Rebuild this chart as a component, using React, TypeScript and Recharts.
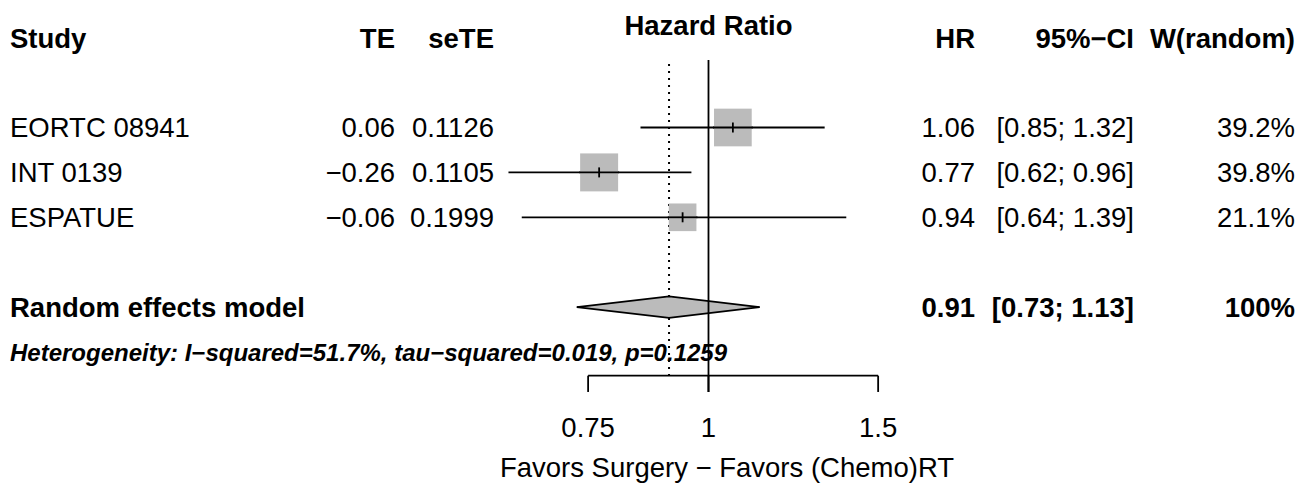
import React from "react";
import { ComposedChart, XAxis, YAxis, Scatter, Area, ReferenceLine } from "recharts";

// ---------- data ----------
const studyLabels = ["EORTC 08941", "INT 0139", "ESPATUE"];
const studyRows = [1, 2, 3];
const teValues = [0.06, -0.26, -0.06];
const seTeValues = [0.1126, 0.1105, 0.1999];
const hrValues = [1.06, 0.77, 0.94];
const ciLower = [0.85, 0.62, 0.64];
const ciUpper = [1.32, 0.96, 1.39];
const weights = [39.2, 39.8, 21.1];

const pooledLabel = "Random effects model";
const pooledRow = 5;
const pooledHr = 0.91;
const pooledLower = 0.73;
const pooledUpper = 1.13;
const pooledWeight = "100%";

const hetLabel = "Heterogeneity: I\u2212squared=51.7%, tau\u2212squared=0.019, p=0.1259";
const hetRow = 6;

const headerLabels = ["Study", "TE", "seTE", "HR", "95%\u2212CI", "W(random)"];
const plotTitle = "Hazard Ratio";
const xTicks = [0.75, 1, 1.5];
const xTickLabels = ["0.75", "1", "1.5"];
const xAxisLabel = "Favors Surgery \u2212 Favors (Chemo)RT";

// ---------- layout ----------
const W = 1299;
const H = 485;
const X_DOMAIN: [number, number] = [0.18392, 4.1012];
const Y_DOMAIN: [number, number] = [-1.8396, 8.9621];
const NULL_EFFECT = 1;
const HEADER_ROW = -1;
const TITLE_ROW = -1.28;
const AXIS_ROW = 6.528;
const TICK_END_ROW = 6.89;
const TICK_LABEL_ROW = 7.666;
const XLABEL_ROW = 8.563;
const REF_TOP_ROW = -0.503;
const DOT_TOP_ROW = -0.414;
const DIAMOND_HALF = 0.24;
const SQUARE_K = 6.02;

const COL_STUDY = 10;
const COL_TE = 395;
const COL_SETE = 494;
const COL_HR = 975;
const COL_CI = 1134;
const COL_W = 1295;
const TITLE_X = 708.5;
const XLABEL_X = 727;

const FONT = "'Liberation Sans', Arial, Helvetica, sans-serif";
const FS = 27.5;
const FS_HET = 24;
const GREY = "#bbbbbb";
const LW = 1.8;

const minus = (v: number, d: number) => (v < 0 ? "\u2212" : "") + Math.abs(v).toFixed(d);

const T = (p: { x: number; y: number; anchor?: string; bold?: boolean; italic?: boolean; size?: number; children: React.ReactNode }) => (
  <text
    x={p.x}
    y={p.y}
    dy="0.36em"
    textAnchor={(p.anchor as any) || "start"}
    fontFamily={FONT}
    fontSize={p.size || FS}
    fontWeight={p.bold ? "bold" : "normal"}
    fontStyle={p.italic ? "italic" : "normal"}
    fill="#000"
  >
    {p.children}
  </text>
);

// one text row of the table, positioned vertically by the y scale (cy)
const RowText = (props: any) => {
  const y = props.cy;
  const r = props.payload.y;
  if (r === TITLE_ROW) {
    return <T x={TITLE_X} y={y} anchor="middle" bold>{plotTitle}</T>;
  }
  if (r === HEADER_ROW) {
    return (
      <g>
        <T x={COL_STUDY} y={y} bold>{headerLabels[0]}</T>
        <T x={COL_TE} y={y} anchor="end" bold>{headerLabels[1]}</T>
        <T x={COL_SETE} y={y} anchor="end" bold>{headerLabels[2]}</T>
        <T x={COL_HR} y={y} anchor="end" bold>{headerLabels[3]}</T>
        <T x={COL_CI} y={y} anchor="end" bold>{headerLabels[4]}</T>
        <T x={COL_W} y={y} anchor="end" bold>{headerLabels[5]}</T>
      </g>
    );
  }
  const i = studyRows.indexOf(r);
  if (i >= 0) {
    return (
      <g>
        <T x={COL_STUDY} y={y}>{studyLabels[i]}</T>
        <T x={COL_TE} y={y} anchor="end">{minus(teValues[i], 2)}</T>
        <T x={COL_SETE} y={y} anchor="end">{seTeValues[i].toFixed(4)}</T>
        <T x={COL_HR} y={y} anchor="end">{hrValues[i].toFixed(2)}</T>
        <T x={COL_CI} y={y} anchor="end">{`[${ciLower[i].toFixed(2)}; ${ciUpper[i].toFixed(2)}]`}</T>
        <T x={COL_W} y={y} anchor="end">{`${weights[i].toFixed(1)}%`}</T>
      </g>
    );
  }
  if (r === pooledRow) {
    return (
      <g>
        <T x={COL_STUDY} y={y} bold>{pooledLabel}</T>
        <T x={COL_HR} y={y} anchor="end" bold>{pooledHr.toFixed(2)}</T>
        <T x={COL_CI} y={y} anchor="end" bold>{`[${pooledLower.toFixed(2)}; ${pooledUpper.toFixed(2)}]`}</T>
        <T x={COL_W} y={y} anchor="end" bold>{pooledWeight}</T>
      </g>
    );
  }
  if (r === hetRow) {
    return <T x={COL_STUDY} y={y} bold italic size={FS_HET}>{hetLabel}</T>;
  }
  if (r === XLABEL_ROW) {
    return <T x={XLABEL_X} y={y} anchor="middle">{xAxisLabel}</T>;
  }
  return <g />;
};

const textRows = [TITLE_ROW, HEADER_ROW, ...studyRows, pooledRow, hetRow, XLABEL_ROW].map((r) => ({
  x: NULL_EFFECT,
  y: r,
}));
const squareData = studyRows.map((r, i) => ({ x: hrValues[i], y: r, w: weights[i] }));
const tickLabelData = xTicks.map((t, i) => ({ x: t, y: TICK_LABEL_ROW, label: xTickLabels[i] }));
const diamondTop = [
  { x: pooledLower, y: pooledRow },
  { x: pooledHr, y: pooledRow - DIAMOND_HALF },
  { x: pooledUpper, y: pooledRow },
];
const diamondBottom = [
  { x: pooledLower, y: pooledRow },
  { x: pooledHr, y: pooledRow + DIAMOND_HALF },
  { x: pooledUpper, y: pooledRow },
];

// grey weight square; the CI line continues across it and a small tick marks the estimate
const SquareShape = (p: any) => {
  const s = SQUARE_K * Math.sqrt(p.payload.w);
  return (
    <g>
      <rect x={p.cx - s / 2} y={p.cy - s / 2} width={s} height={s} fill={GREY} />
      <line x1={p.cx - s / 2 - 1} x2={p.cx + s / 2 + 1} y1={p.cy} y2={p.cy} stroke="#000" strokeWidth={LW} />
      <line x1={p.cx} x2={p.cx} y1={p.cy - 5} y2={p.cy + 5} stroke="#000" strokeWidth={LW} />
    </g>
  );
};

const TickLabelShape = (p: any) => (
  <T x={p.cx} y={p.cy} anchor="middle">{p.payload.label}</T>
);

export default function App() {
  return (
    <div style={{ position: "absolute", left: 0, top: 0, width: W, height: H, background: "#fff" }}>
      <ComposedChart width={W} height={H} margin={{ top: 0, right: 0, bottom: 0, left: 0 }}>
        <XAxis type="number" dataKey="x" scale="log" domain={X_DOMAIN} allowDataOverflow hide />
        <YAxis type="number" dataKey="y" domain={Y_DOMAIN} reversed allowDataOverflow hide />
        {/* dotted line at pooled estimate, interrupted by the diamond */}
        <ReferenceLine
          segment={[{ x: pooledHr, y: DOT_TOP_ROW }, { x: pooledHr, y: pooledRow - DIAMOND_HALF }]}
          stroke="#000"
          strokeWidth={2}
          strokeDasharray="2 5"
          ifOverflow="visible"
        />
        <ReferenceLine
          segment={[{ x: pooledHr, y: pooledRow + DIAMOND_HALF }, { x: pooledHr, y: AXIS_ROW }]}
          stroke="#000"
          strokeWidth={2}
          strokeDasharray="2 5"
          ifOverflow="visible"
        />
        {studyRows.map((r, i) => (
          <ReferenceLine
            key={`ci-${i}`}
            segment={[{ x: ciLower[i], y: r }, { x: ciUpper[i], y: r }]}
            stroke="#000"
            strokeWidth={LW}
            ifOverflow="visible"
          />
        ))}
        {/* null-effect line */}
        <ReferenceLine
          segment={[{ x: NULL_EFFECT, y: REF_TOP_ROW }, { x: NULL_EFFECT, y: TICK_END_ROW }]}
          stroke="#000"
          strokeWidth={LW}
          ifOverflow="visible"
        />
        {/* x axis */}
        <ReferenceLine
          segment={[{ x: xTicks[0], y: AXIS_ROW }, { x: xTicks[xTicks.length - 1], y: AXIS_ROW }]}
          stroke="#000"
          strokeWidth={LW}
          ifOverflow="visible"
        />
        {xTicks.map((t, i) => (
          <ReferenceLine
            key={`tick-${i}`}
            segment={[{ x: t, y: AXIS_ROW }, { x: t, y: TICK_END_ROW }]}
            stroke="#000"
            strokeWidth={LW}
            ifOverflow="visible"
          />
        ))}
        <Area
          data={diamondTop}
          dataKey="y"
          type="linear"
          baseValue={pooledRow}
          stroke="#000"
          strokeWidth={LW}
          fill={GREY}
          fillOpacity={1}
          dot={false}
          activeDot={false}
          isAnimationActive={false}
        />
        <Area
          data={diamondBottom}
          dataKey="y"
          type="linear"
          baseValue={pooledRow}
          stroke="#000"
          strokeWidth={LW}
          fill={GREY}
          fillOpacity={1}
          dot={false}
          activeDot={false}
          isAnimationActive={false}
        />
        <Scatter data={squareData} shape={SquareShape} isAnimationActive={false} />
        <Scatter data={tickLabelData} shape={TickLabelShape} isAnimationActive={false} />
        <Scatter data={textRows} shape={RowText} isAnimationActive={false} />
      </ComposedChart>
    </div>
  );
}
